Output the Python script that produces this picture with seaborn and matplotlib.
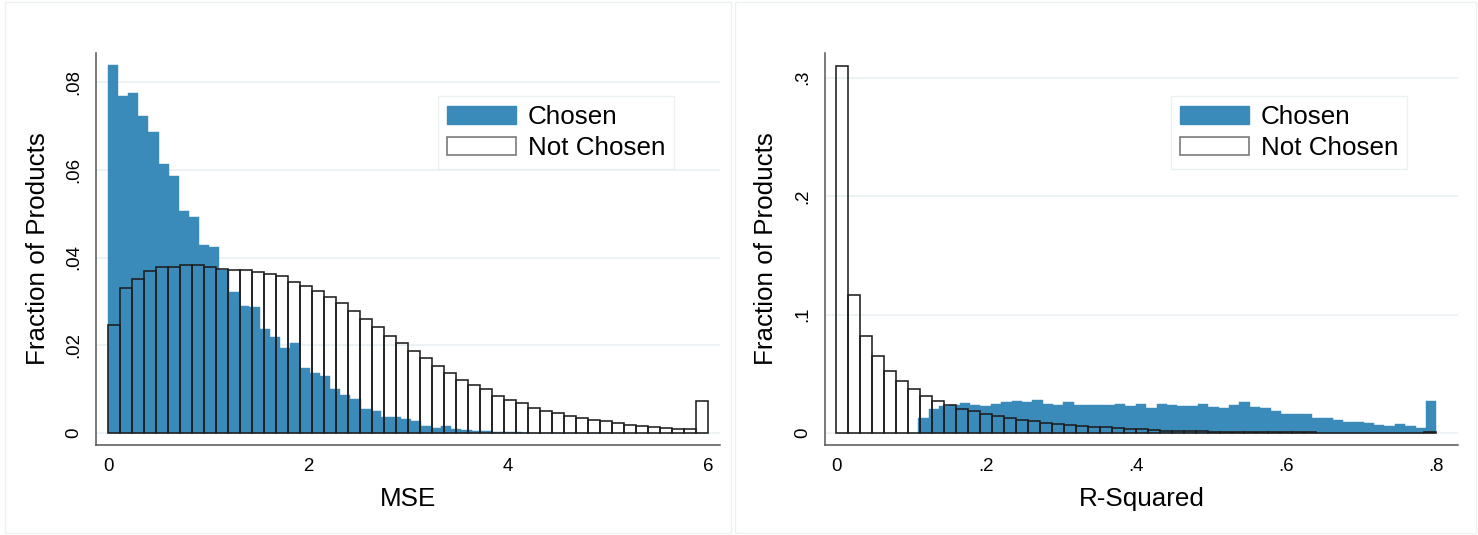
import numpy as np
import pandas as pd
import matplotlib
matplotlib.use("Agg")
import matplotlib.pyplot as plt
from matplotlib.patches import Patch, Rectangle
import seaborn as sns

# colours
BLUE = "#3a8aba"
OUTLINE = "#1e1e1e"
GRID = "#e8f0f1"
AXIS = "#555555"

# ---- MSE panel (fraction of products per bin) ----
MSE_CHOSEN_RANGE = (0.0, 5.05)   # 50 bins
MSE_CHOSEN = [
    0.0839, 0.0767, 0.0776, 0.0722, 0.0687, 0.0613, 0.0586, 0.0507, 0.0492, 0.0428,
    0.0423, 0.0372, 0.0321, 0.0289, 0.0288, 0.0238, 0.0219, 0.0194, 0.0205, 0.0148,
    0.0137, 0.0130, 0.0101, 0.0086, 0.0077, 0.0055, 0.0051, 0.0036, 0.0036, 0.0033,
    0.0027, 0.0017, 0.0011, 0.0017, 0.0009, 0.0008, 0.0004, 0.0005, 0.0002, 0.0002,
    0.0002, 0.0001, 0.0001, 0.0001, 0.0, 0.0001, 0.0001, 0.0001, 0.0, 0.0001,
]
MSE_NOT_RANGE = (0.0, 6.0)       # 50 bins
MSE_NOT = [
    0.0246, 0.0330, 0.0351, 0.0369, 0.0378, 0.0378, 0.0383, 0.0382, 0.0378, 0.0374,
    0.0372, 0.0372, 0.0368, 0.0362, 0.0359, 0.0345, 0.0336, 0.0324, 0.0310, 0.0296,
    0.0279, 0.0260, 0.0242, 0.0222, 0.0205, 0.0186, 0.0171, 0.0152, 0.0136, 0.0122,
    0.0109, 0.0100, 0.0084, 0.0076, 0.0068, 0.0058, 0.0051, 0.0045, 0.0040, 0.0034,
    0.0029, 0.0027, 0.0022, 0.0018, 0.0017, 0.0014, 0.0011, 0.0010, 0.0009, 0.0074,
]

# ---- R-squared panel ----
RSQ_CHOSEN_RANGE = (0.1097, 0.8)  # 50 bins
RSQ_CHOSEN = [
    0.0127, 0.0200, 0.0228, 0.0236, 0.0253, 0.0233, 0.0231, 0.0248, 0.0262, 0.0267,
    0.0259, 0.0281, 0.0245, 0.0239, 0.0264, 0.0239, 0.0239, 0.0239, 0.0236, 0.0248,
    0.0228, 0.0245, 0.0214, 0.0242, 0.0233, 0.0231, 0.0231, 0.0248, 0.0222, 0.0208,
    0.0239, 0.0262, 0.0222, 0.0208, 0.0188, 0.0158, 0.0163, 0.0158, 0.0124, 0.0129,
    0.0107, 0.0090, 0.0090, 0.0082, 0.0070, 0.0062, 0.0073, 0.0059, 0.0042, 0.0273,
]
RSQ_NOT_RANGE = (0.0, 0.8)        # 50 bins
RSQ_NOT = [
    0.3096, 0.1166, 0.0823, 0.0646, 0.0522, 0.0441, 0.0369, 0.0314, 0.0271, 0.0233,
    0.0201, 0.0182, 0.0162, 0.0143, 0.0128, 0.0111, 0.0099, 0.0085, 0.0076, 0.0068,
    0.0060, 0.0055, 0.0048, 0.0040, 0.0034, 0.0031, 0.0025, 0.0020, 0.0017, 0.0014,
    0.0014, 0.0011, 0.0010, 0.0009, 0.0008, 0.0007, 0.0006, 0.0006, 0.0005, 0.0005,
    0.0004, 0.0004, 0.0003, 0.0003, 0.0003, 0.0002, 0.0002, 0.0002, 0.0002, 0.0009,
]

MSE_XTICKS = [0, 2, 4, 6]
MSE_XLABELS = ["0", "2", "4", "6"]
MSE_YTICKS = [0, 0.02, 0.04, 0.06, 0.08]
MSE_YLABELS = ["0", ".02", ".04", ".06", ".08"]
RSQ_XTICKS = [0, 0.2, 0.4, 0.6, 0.8]
RSQ_XLABELS = ["0", ".2", ".4", ".6", ".8"]
RSQ_YTICKS = [0, 0.1, 0.2, 0.3]
RSQ_YLABELS = ["0", ".1", ".2", ".3"]
LEGEND_LABELS = ["Chosen", "Not Chosen"]


def draw_hist(ax, values, rng, filled):
    n = len(values)
    edges = np.linspace(rng[0], rng[1], n + 1)
    df = pd.DataFrame({"x": (edges[:-1] + edges[1:]) / 2, "w": values})
    if filled:
        sns.histplot(data=df, x="x", weights="w", bins=n, binrange=rng, stat="count",
                     color=BLUE, edgecolor=BLUE, linewidth=0.3, alpha=1, ax=ax)
    else:
        sns.histplot(data=df, x="x", weights="w", bins=n, binrange=rng, stat="count",
                     fill=False, color=OUTLINE, linewidth=1.15, ax=ax)


def style_axis(ax, xlim, ylim, xticks, xlabels, yticks, ylabels, xlabel, legend_x):
    ax.set_xlim(xlim)
    ax.set_ylim(ylim)
    ax.set_xticks(xticks, xlabels)
    ax.set_yticks(yticks, ylabels)
    for t in ax.get_yticklabels():
        t.set_rotation(90)
        t.set_va("center")
    ax.tick_params(axis="both", labelsize=13.4, length=5.6, width=1.0,
                   color=AXIS, labelcolor="black", pad=4, direction="out")
    ax.grid(axis="y", color=GRID, linewidth=1.1)
    ax.grid(axis="x", visible=False)
    ax.set_axisbelow(True)
    for side in ["top", "right"]:
        ax.spines[side].set_visible(False)
    for side in ["left", "bottom"]:
        ax.spines[side].set_color(AXIS)
        ax.spines[side].set_linewidth(1.1)
    ax.set_xlabel(xlabel, fontsize=18.7, color="black")
    ax.set_ylabel("Fraction of Products", fontsize=18.7, color="black")
    ax.xaxis.set_label_coords(0.5, -0.108)
    ax.yaxis.set_label_coords(-0.074, 0.5)

    handles = [Patch(facecolor=BLUE, edgecolor=BLUE),
               Patch(facecolor="white", edgecolor="#7a7a7a", linewidth=1.2)]
    leg = ax.legend(handles, LEGEND_LABELS, loc="upper left",
                    bbox_to_anchor=(legend_x, 0.89), borderaxespad=0,
                    fontsize=18.7, frameon=True, fancybox=False,
                    handlelength=2.65, handleheight=0.7, handletextpad=0.45,
                    labelspacing=0.25, borderpad=0.35, labelcolor="black")
    leg.get_frame().set_edgecolor("#e6edef")
    leg.get_frame().set_linewidth(1.0)


if __name__ == "__main__":
    sns.set_style("white")
    plt.rcParams["font.family"] = ["Liberation Sans", "DejaVu Sans"]
    plt.rcParams["text.color"] = "black"

    fig = plt.figure(figsize=(14.78, 5.35), dpi=100)
    W, H = 1478, 535

    # faint frames around the two panels
    for x0, x1 in [(5, 731), (735, 1476)]:
        fig.patches.append(Rectangle((x0 / W, 2 / H), (x1 - x0) / W, (H - 4) / H,
                                     transform=fig.transFigure, fill=False,
                                     edgecolor="#eef1f1", linewidth=1.0))

    ax1 = fig.add_axes([96 / W, (H - 445) / H, 624 / W, 392 / H])
    draw_hist(ax1, MSE_CHOSEN, MSE_CHOSEN_RANGE, True)
    draw_hist(ax1, MSE_NOT, MSE_NOT_RANGE, False)
    style_axis(ax1, (-0.12, 6.12), (-0.0027, 0.0866), MSE_XTICKS, MSE_XLABELS,
               MSE_YTICKS, MSE_YLABELS, "MSE", 0.548)

    ax2 = fig.add_axes([825 / W, (H - 445) / H, 633 / W, 392 / H])
    draw_hist(ax2, RSQ_CHOSEN, RSQ_CHOSEN_RANGE, True)
    draw_hist(ax2, RSQ_NOT, RSQ_NOT_RANGE, False)
    style_axis(ax2, (-0.0147, 0.829), (-0.0101, 0.3207), RSQ_XTICKS, RSQ_XLABELS,
               RSQ_YTICKS, RSQ_YLABELS, "R-Squared", 0.5466)

    fig.savefig("out.png", dpi=100)
